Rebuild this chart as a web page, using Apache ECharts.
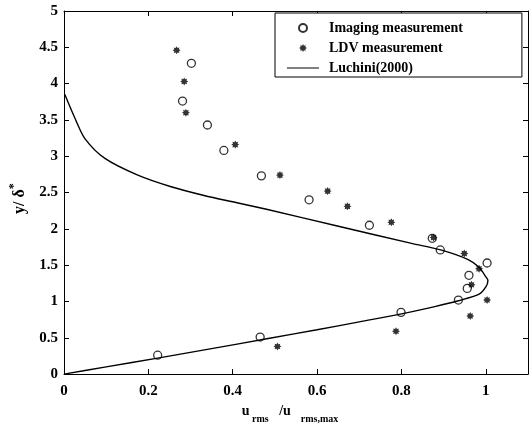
<!DOCTYPE html>
<html>
<head>
<meta charset="utf-8">
<script src="https://cdn.jsdelivr.net/npm/echarts@6/dist/echarts.min.js"></script>
<style>
  html, body { margin: 0; padding: 0; background: #fff; }
  #chart { width: 531px; height: 429px; }
</style>
</head>
<body>
<div id="chart"></div>
<script>
// 数据：u_rms/u_rms,max 与 y/δ*
const imagingU = [0.302, 0.281, 0.340, 0.379, 0.468, 0.581, 0.724, 0.873, 0.892, 1.003, 0.960, 0.956, 0.935, 0.799, 0.465, 0.222]
const imagingY = [4.28, 3.76, 3.43, 3.08, 2.73, 2.40, 2.05, 1.87, 1.71, 1.53, 1.36, 1.18, 1.02, 0.85, 0.51, 0.26]

const ldvU = [0.267, 0.285, 0.289, 0.406, 0.512, 0.625, 0.672, 0.776, 0.876, 0.949, 0.984, 0.966, 1.003, 0.963, 0.787, 0.506]
const ldvY = [4.46, 4.03, 3.60, 3.16, 2.74, 2.52, 2.31, 2.09, 1.88, 1.66, 1.45, 1.23, 1.02, 0.80, 0.59, 0.38]

const luchiniU = [0, 0.1, 0.222, 0.35, 0.484, 0.6, 0.7, 0.8, 0.879, 0.935, 0.984, 1.0, 1.005, 1.0, 0.984, 0.957, 0.893, 0.824, 0.648, 0.48, 0.41, 0.332, 0.254, 0.175, 0.097, 0.05, 0.027, 0.002]
const luchiniY = [0, 0.1, 0.22, 0.35, 0.49, 0.61, 0.72, 0.83, 0.93, 1.01, 1.10, 1.20, 1.29, 1.34, 1.47, 1.58, 1.71, 1.80, 2.04, 2.27, 2.36, 2.46, 2.58, 2.74, 2.97, 3.24, 3.51, 3.85]

const seriesNames = ['Imaging measurement', 'LDV measurement', 'Luchini(2000)']

const pairs = (xs, ys) => xs.map((x, i) => [x, ys[i]])

// 星形标记（八角）
function starPath(n, r1, r2) {
  let d = ''
  for (let i = 0; i < 2 * n; i++) {
    const a = i * Math.PI / n - Math.PI / 2
    const r = i % 2 ? r2 : r1
    d += (i ? 'L' : 'M') + (r * Math.cos(a)).toFixed(3) + ' ' + (r * Math.sin(a)).toFixed(3)
  }
  return 'path://' + d + 'Z'
}

const serif = 'Liberation Serif'
const tickFont = { fontFamily: serif, fontWeight: 'bold', fontSize: 15, color: '#000' }
const axisLine = { show: true, onZero: false, lineStyle: { color: '#000', width: 1 } }
const axisTick = { show: true, inside: true, length: 5, lineStyle: { color: '#000' } }

const chart = echarts.init(document.getElementById('chart'))

const option = {
  animation: false,
  backgroundColor: '#fff',
  grid: { left: 59, right: 3, top: 11, bottom: 51 },
  legend: {
    orient: 'vertical',
    left: 275,
    top: 13,
    itemWidth: 32,
    itemHeight: 8,
    itemGap: 6,
    padding: [8, 59, 2, 12],
    borderColor: '#000',
    borderWidth: 1,
    backgroundColor: '#fff',
    textStyle: { fontFamily: serif, fontWeight: 'bold', fontSize: 14, color: '#000', padding: [0, 0, 0, 5] },
    data: [
      seriesNames[0],
      seriesNames[1],
      // 图例中只画一条细线
      { name: seriesNames[2], icon: 'path://M0 0L32 0L32 1L0 1Z' },
    ],
  },
  xAxis: [
    {
      type: 'value', position: 'bottom', min: 0, max: 1.1, interval: 0.2,
      axisLine, axisTick,
      splitLine: { show: false },
      axisLabel: Object.assign({ margin: 10, showMaxLabel: false }, tickFont),
      name: '{a|u}{s| rms}{a|   /u}{s|    rms,max}',
      nameLocation: 'middle',
      nameGap: 24,
      nameTextStyle: {
        padding: [0, 12, 0, 0],
        rich: {
          a: { fontFamily: serif, fontWeight: 'bold', fontSize: 14, color: '#000', lineHeight: 20, verticalAlign: 'top' },
          s: { fontFamily: serif, fontWeight: 'bold', fontSize: 10, color: '#000', lineHeight: 20, verticalAlign: 'bottom' },
        },
      },
    },
    {
      type: 'value', position: 'top', min: 0, max: 1.1, interval: 0.2,
      axisLine, axisTick,
      splitLine: { show: false },
      axisLabel: { show: false },
    },
  ],
  yAxis: [
    {
      type: 'value', position: 'left', min: 0, max: 5, interval: 0.5,
      axisLine, axisTick,
      splitLine: { show: false },
      axisLabel: Object.assign({ margin: 6 }, tickFont),
      name: '{a|y/ δ}{sup|*}',
      nameLocation: 'middle',
      nameGap: 36,
      nameTextStyle: {
        padding: [0, 12, 0, 0],
        rich: {
          a: { fontFamily: serif, fontWeight: 'bold', fontSize: 16, color: '#000', lineHeight: 20, verticalAlign: 'bottom' },
          sup: { fontFamily: serif, fontWeight: 'bold', fontSize: 12, color: '#000', lineHeight: 20, verticalAlign: 'top' },
        },
      },
    },
    {
      type: 'value', position: 'right', min: 0, max: 5, interval: 0.5,
      axisLine, axisTick,
      splitLine: { show: false },
      axisLabel: { show: false },
    },
  ],
  series: [
    {
      name: seriesNames[0],
      type: 'scatter',
      symbol: 'circle',
      symbolSize: 8,
      itemStyle: { color: 'rgba(255,255,255,0)', borderColor: '#000', borderWidth: 1.3 },
      data: pairs(imagingU, imagingY),
      z: 3,
    },
    {
      name: seriesNames[1],
      type: 'scatter',
      symbol: starPath(8, 1, 0.62),
      symbolSize: 8,
      itemStyle: { color: '#000' },
      data: pairs(ldvU, ldvY),
      z: 3,
    },
    {
      name: seriesNames[2],
      type: 'line',
      symbol: 'none',
      smooth: 0.3,
      lineStyle: { color: '#000', width: 1.4 },
      itemStyle: { color: '#000' },
      data: pairs(luchiniU, luchiniY),
      z: 2,
    },
  ],
}

chart.setOption(option)
</script>
</body>
</html>
